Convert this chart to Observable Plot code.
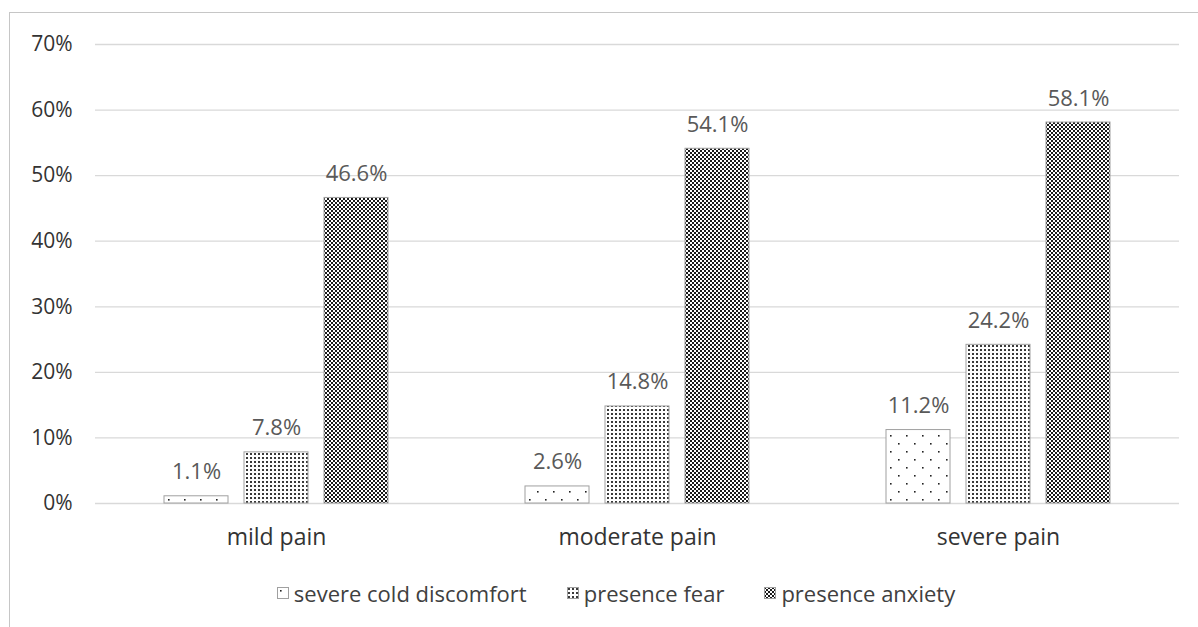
<!DOCTYPE html>
<html><head><meta charset="utf-8">
<script src="https://cdn.jsdelivr.net/npm/d3@7"></script>
<script src="https://cdn.jsdelivr.net/npm/@observablehq/plot@0.6"></script>
<style>
body{margin:0;background:#fff;font-family:"Open Sans",sans-serif;}
#wrap{position:relative;width:1198px;height:627px;overflow:hidden;background:#fff;}
#frame{position:absolute;left:9px;top:12px;width:1300px;height:700px;border:1px solid #c6c6c6;box-sizing:border-box;}
.layer{position:absolute;left:0;top:0;}
.layer svg{background:transparent !important;overflow:visible;}
#legend{position:absolute;top:578px;left:0;width:1198px;display:flex;justify-content:center;align-items:center;gap:40px;padding-left:34px;box-sizing:border-box;font-size:22px;color:#404040;}
#legend .item{display:flex;align-items:center;gap:5px;white-space:nowrap;}
#legend svg{display:block;}
</style>
</head><body>
<svg width="0" height="0" style="position:absolute">
  <defs>
    <pattern id="pCold" width="16" height="16" patternUnits="userSpaceOnUse">
      <rect width="16" height="16" fill="#fff"/>
      <rect x="3" y="3" width="1.6" height="1.6" fill="#222"/>
      <rect x="11" y="11" width="1.6" height="1.6" fill="#222"/>
    </pattern>
    <pattern id="pFear" width="4" height="4" patternUnits="userSpaceOnUse">
      <rect width="4" height="4" fill="#fff"/>
      <rect x="1" y="1" width="2" height="2" fill="#3a3a3a"/>
    </pattern>
    <pattern id="pAnx" width="4" height="4" patternUnits="userSpaceOnUse">
      <rect width="4" height="4" fill="#fff"/>
      <rect x="0" y="0" width="2" height="2" fill="#1a1a1a"/>
      <rect x="2" y="2" width="2" height="2" fill="#1a1a1a"/>
    </pattern>
  </defs>
</svg>
<div id="wrap">
  <div id="frame"></div>
  <div id="gridLayer" class="layer"></div>
  <div id="barLayer" class="layer"></div>
  <div id="legend"></div>
</div>
<script>
const categories = ["mild pain", "moderate pain", "severe pain"];
const seriesNames = ["severe cold discomfort", "presence fear", "presence anxiety"];
const coldDiscomfort = [1.1, 2.6, 11.2];
const presenceFear = [7.8, 14.8, 24.2];
const presenceAnxiety = [46.6, 54.1, 58.1];
const yTicks = [0, 10, 20, 30, 40, 50, 60, 70];
const patternFills = ["url(#pCold)", "url(#pFear)", "url(#pAnx)"];

const seriesValues = [coldDiscomfort, presenceFear, presenceAnxiety];
const data = [];
categories.forEach((c, i) => {
  seriesNames.forEach((s, j) => data.push({category: c, series: s, value: seriesValues[j][i]}));
});

const W = 1198, H = 560;
const margins = {marginLeft: 95, marginRight: 19, marginTop: 44, marginBottom: 57};
const yScale = {domain: [0, 70]};

const gridPlot = Plot.plot({
  width: W, height: H, ...margins,
  style: {fontFamily: "Open Sans, sans-serif", background: "transparent"},
  y: yScale,
  marks: [
    Plot.ruleY(yTicks, {stroke: "#d9d9d9", strokeWidth: 1.3}),
    Plot.axisY(yTicks, {tickSize: 0, tickPadding: 23, tickFormat: d => d + "%", label: null, fontSize: 21, fill: "#333"})
  ]
});
document.getElementById("gridLayer").append(gridPlot);

const barPlot = Plot.plot({
  width: W, height: H, ...margins,
  style: {fontFamily: "Open Sans, sans-serif", background: "transparent"},
  fx: {domain: categories, paddingInner: 0.38, paddingOuter: 0.19, label: null},
  x: {domain: seriesNames, paddingInner: 0.2, paddingOuter: 0, axis: null},
  y: {...yScale, axis: null},
  color: {domain: seriesNames, range: patternFills},
  marks: [
    Plot.axisFx({anchor: "bottom", tickSize: 0, tickPadding: 25, fontSize: 23, fill: "#333", label: null}),
    Plot.barY(data, {fx: "category", x: "series", y: "value", fill: "series", stroke: "#a0a0a0", strokeWidth: 1}),
    Plot.text(data, {fx: "category", x: "series", y: "value", text: d => d.value.toFixed(1) + "%", lineAnchor: "bottom", dy: -17, fontSize: 22, fill: "#595959"})
  ]
});
document.getElementById("barLayer").append(barPlot);

const legend = document.getElementById("legend");
seriesNames.forEach((s, j) => {
  const item = document.createElement("div");
  item.className = "item";
  item.innerHTML = `<svg width="12" height="12"><rect x="0.5" y="0.5" width="11" height="11" fill="${patternFills[j]}" stroke="#a0a0a0"/></svg><span>${s}</span>`;
  legend.append(item);
});
</script>
</body></html>
